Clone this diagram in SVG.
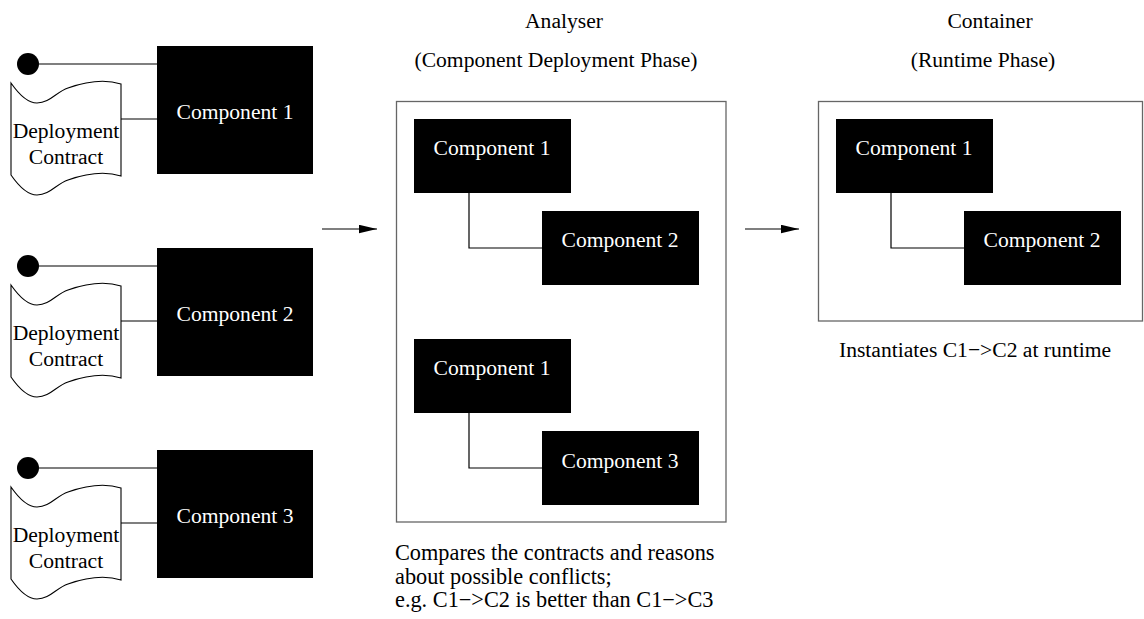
<svg xmlns="http://www.w3.org/2000/svg" width="1144" height="619" viewBox="0 0 1144 619">
<style>
text{font-family:"Liberation Serif","Times New Roman",serif;font-size:21.6px;fill:#000}
.comp{fill:#000}
.ct{fill:#fff;text-anchor:middle}
.mid{text-anchor:middle}
.note{font-size:22.3px}
.frame{fill:#fff;stroke:#666;stroke-width:1.3}
.ln{fill:none;stroke:#000;stroke-width:1.2}
.doc{fill:#fff;stroke:#000;stroke-width:1.1}
</style>
<defs>
<marker id="ah" markerUnits="userSpaceOnUse" markerWidth="18" markerHeight="9" viewBox="0 0 17 8" refX="17" refY="4" orient="auto">
<path d="M0,0 L17,4 L0,8 z" fill="#000"/>
</marker>
<g id="contract">
<path class="doc" d="M11,83 C20,96 28,103 37,103 C50,103 56,92 68,88 C85,82 105,79 121,84 L121,176 C105,171 85,174 68,180 C56,184 50,195 37,195 C28,195 20,188 11,175 Z"/>
<circle cx="28" cy="64" r="11" fill="#000"/>
<text class="mid" x="66" y="138">Deployment</text>
<text class="mid" x="66" y="164">Contract</text>
</g>
</defs>

<g id="connectors">
<path class="ln" d="M39,64 H157 M121,119 H157"/>
<path class="ln" d="M39,266 H157 M121,321 H157"/>
<path class="ln" d="M39,468 H157 M121,523 H157"/>
<path class="ln" d="M322,229 H377" marker-end="url(#ah)"/>
<path class="ln" d="M745,229 H799" marker-end="url(#ah)"/>
</g>

<g id="src1">
<use href="#contract"/>
<rect class="comp" x="157" y="46" width="156" height="128"/>
<text class="ct" x="235" y="119">Component 1</text>
</g>
<g id="src2">
<use href="#contract" y="202"/>
<rect class="comp" x="157" y="248" width="156" height="128"/>
<text class="ct" x="235" y="321">Component 2</text>
</g>
<g id="src3">
<use href="#contract" y="404"/>
<rect class="comp" x="157" y="450" width="156" height="128"/>
<text class="ct" x="235" y="523">Component 3</text>
</g>

<g id="analyser">
<text class="mid" x="564" y="28">Analyser</text>
<text class="mid" x="556" y="67">(Component Deployment Phase)</text>
<rect class="frame" x="396.5" y="101.5" width="329.5" height="420.5"/>
<path class="ln" d="M469,193 V248 H542"/>
<path class="ln" d="M469,413 V468 H542"/>
<g id="a-c1">
<rect class="comp" x="414" y="119" width="157" height="74"/>
<text class="ct" x="492" y="155">Component 1</text>
</g>
<g id="a-c2">
<rect class="comp" x="542" y="211" width="157" height="74"/>
<text class="ct" x="620" y="247">Component 2</text>
</g>
<g id="a-c1b">
<rect class="comp" x="414" y="339" width="157" height="74"/>
<text class="ct" x="492" y="375">Component 1</text>
</g>
<g id="a-c3">
<rect class="comp" x="542" y="431" width="157" height="74"/>
<text class="ct" x="620" y="468">Component 3</text>
</g>
<text class="note" x="395" y="560">Compares the contracts and reasons</text>
<text class="note" x="395" y="583.5">about possible conflicts;</text>
<text class="note" x="395" y="607">e.g. C1−&gt;C2 is better than C1−&gt;C3</text>
</g>

<g id="container">
<text class="mid" x="990" y="28">Container</text>
<text class="mid" x="983" y="67">(Runtime Phase)</text>
<rect class="frame" x="818.5" y="101.5" width="324" height="219.5"/>
<path class="ln" d="M891,193 V248 H964"/>
<g id="r-c1">
<rect class="comp" x="836" y="119" width="157" height="74"/>
<text class="ct" x="914" y="155">Component 1</text>
</g>
<g id="r-c2">
<rect class="comp" x="964" y="211" width="157" height="74"/>
<text class="ct" x="1042" y="247">Component 2</text>
</g>
<text class="mid" x="975" y="357">Instantiates C1−&gt;C2 at runtime</text>
</g>
</svg>
